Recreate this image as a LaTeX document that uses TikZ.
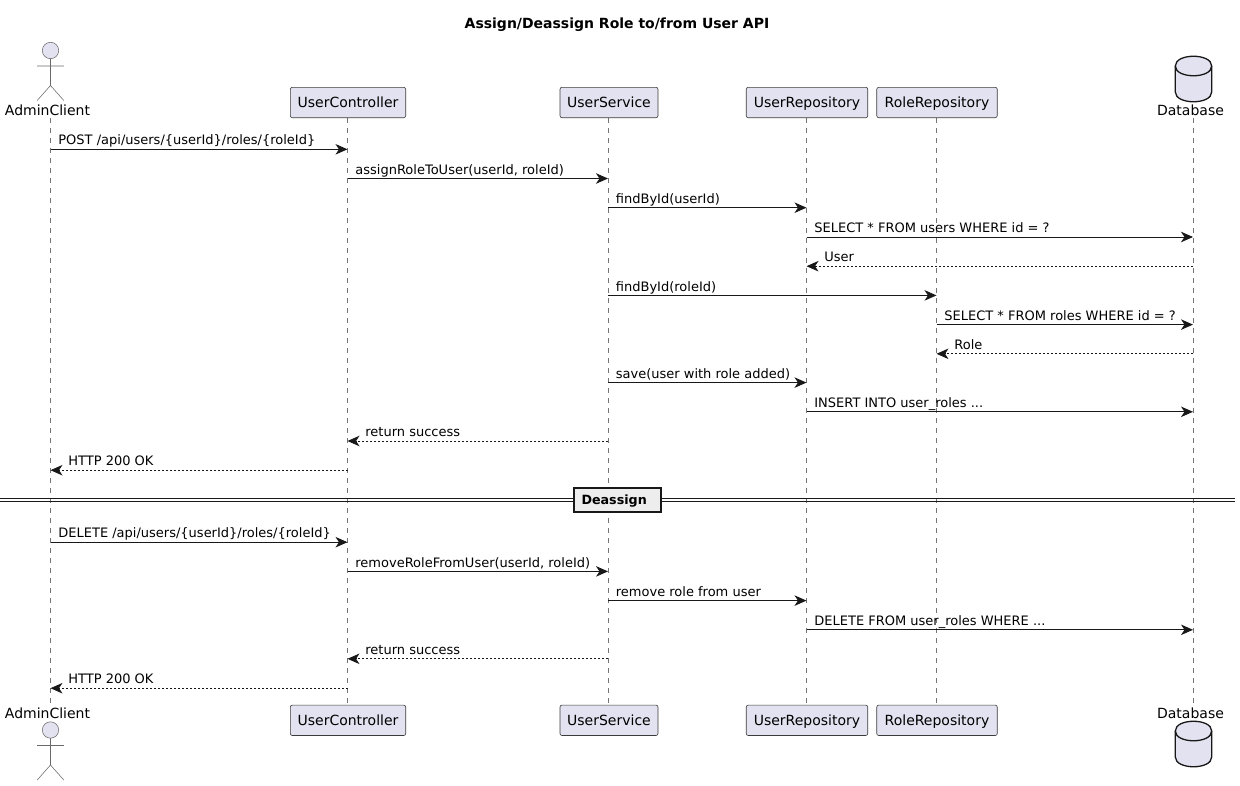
\documentclass[tikz,border=0pt]{standalone}
\usepackage{fontspec}
\setmainfont{DejaVu Sans}
\usetikzlibrary{arrows.meta}
\definecolor{pfill}{HTML}{E2E2F0}
\definecolor{pline}{HTML}{181818}
\tikzset{
  x=1pt,y=-1pt,
  part/.style={draw=pline!85,line width=0.6pt,fill=pfill,rounded corners=2pt,minimum height=30.4pt,inner sep=0pt,text height=11.5pt,text depth=2pt,font=\fontsize{14}{16}\selectfont,text=black},
  actorname/.style={inner sep=0pt,text height=10.5pt,text depth=3pt,font=\fontsize{14}{16}\selectfont,text=black},
  lifeline/.style={draw=pline!60,line width=0.55pt,dash pattern=on 5pt off 5pt},
  stick/.style={draw=pline!65,line width=0.55pt,fill=pfill},
  dbshape/.style={draw=pline,line width=1.3pt,fill=pfill},
  msgtext/.style={inner sep=0pt,anchor=base west,font=\fontsize{13}{15}\selectfont,text=black},
  solidmsg/.style={draw=pline,line width=0.9pt,-{Stealth[length=12pt,width=10.5pt,inset=3.5pt]}},
  dashmsg/.style={solidmsg,line width=0.8pt,dash pattern=on 2pt off 2pt},
  divline/.style={draw=pline,line width=1.1pt},
  divbox/.style={draw=pline,line width=2pt,fill=black!7,inner sep=0pt,minimum width=87pt,minimum height=24pt,text=black},
}
% \msgr{id}{from}{to}{y}{text}: left to right ; \msgl: right to left (reply)
\newcommand{\msgr}[5]{%
  \coordinate (#1s) at (#2 |- 0,#4);
  \coordinate (#1e) at (#3 |- 0,#4);
  \draw[solidmsg] (#1s) -- (#1e);
  \node[msgtext] (#1t) at ([xshift=7.7pt,yshift=4.4pt]#1s) {#5};}
\newcommand{\msgl}[5]{%
  \coordinate (#1s) at (#2 |- 0,#4);
  \coordinate (#1e) at (#3 |- 0,#4);
  \draw[dashmsg] (#1s) -- (#1e);
  \node[msgtext] (#1t) at ([xshift=17.7pt,yshift=4.4pt]#1e) {#5};}
% \actorfig{x}{head-y}
\newcommand{\actorfig}[2]{%
  \draw[stick] (#1,#2) circle[radius=8.2];
  \draw[stick,fill=none] (#1,#2+8.2) -- (#1,#2+35) (#1-13.3,#2+15.5) -- (#1+13.3,#2+15.5)
    (#1-13.3,#2+50) -- (#1,#2+35) -- (#1+13.3,#2+50);}
% \dbfig{x}{top-y}
\newcommand{\dbfig}[2]{%
  \draw[dbshape] (#1-18.2,#2+10) .. controls (#1-18.2,#2-3) and (#1+18.2,#2-3) .. (#1+18.2,#2+10)
    -- (#1+18.2,#2+36) .. controls (#1+18.2,#2+49) and (#1-18.2,#2+49) .. (#1-18.2,#2+36) -- cycle;
  \draw[dbshape,fill=none] (#1-18.2,#2+10) .. controls (#1-18.2,#2+23) and (#1+18.2,#2+23) .. (#1+18.2,#2+10);}
\begin{document}
\begin{tikzpicture}
\useasboundingbox (0,0) rectangle (1240,785);
\node[inner sep=0pt,text height=10.5pt,text depth=3pt,font=\bfseries\fontsize{14}{16}\selectfont] (title) at (617,25) {Assign/Deassign Role to/from User API};

% lifelines' anchors
\coordinate (A) at (50.5,118);    \coordinate (Ab) at (50.5,704);
\coordinate (C) at (347.5,118);   \coordinate (Cb) at (347.5,704);
\coordinate (S) at (608,118);     \coordinate (Sb) at (608,704);
\coordinate (U) at (806.5,118);   \coordinate (Ub) at (806.5,704);
\coordinate (R) at (936.5,118);   \coordinate (Rb) at (936.5,704);
\coordinate (D) at (1193,118);    \coordinate (Db) at (1193,704);
\foreach \p in {A,C,S,U,R,D} {\draw[lifeline] (\p) -- (\p b);}

% top participants
\actorfig{50.5}{50.5}
\node[actorname] (atop) at (47.5,112) {AdminClient};
\node[part,minimum width=115.4pt] (ctop) at (348,102.5) {UserController};
\node[part,minimum width=98pt] (stop) at (609,102.5) {UserService};
\node[part,minimum width=121.5pt] (utop) at (807,102.5) {UserRepository};
\node[part,minimum width=120.5pt] (rtop) at (937,102.5) {RoleRepository};
\dbfig{1193.5}{56}
\node[actorname] (dtop) at (1190.5,112) {Database};

% bottom participants
\actorfig{50.5}{730}
\node[actorname] (abot) at (47.5,715) {AdminClient};
\node[part,minimum width=115.4pt] (cbot) at (348,720.3) {UserController};
\node[part,minimum width=98pt] (sbot) at (609,720.3) {UserService};
\node[part,minimum width=121.5pt] (ubot) at (807,720.3) {UserRepository};
\node[part,minimum width=120.5pt] (rbot) at (937,720.3) {RoleRepository};
\dbfig{1193.5}{721}
\node[actorname] (dbot) at (1190.5,715) {Database};

% messages: assign
\msgr{a}{A}{C}{149.3}{POST /api/users/\{userId\}/roles/\{roleId\}}
\msgr{b}{C}{S}{178.5}{assignRoleToUser(userId, roleId)}
\msgr{c}{S}{U}{207.7}{findById(userId)}
\msgr{d}{U}{D}{237}{SELECT * FROM users WHERE id = ?}
\msgl{e}{D}{U}{266.2}{User}
\msgr{f}{S}{R}{295.4}{findById(roleId)}
\msgr{g}{R}{D}{324.6}{SELECT * FROM roles WHERE id = ?}
\msgl{h}{D}{R}{353.8}{Role}
\msgr{i}{S}{U}{382.6}{save(user with role added)}
\msgr{j}{U}{D}{411.8}{INSERT INTO user\_roles ...}
\msgl{k}{S}{C}{441}{return success}
\msgl{l}{C}{A}{470.2}{HTTP 200 OK}

% divider
\coordinate (dl1) at (0,498.4);  \coordinate (dr1) at (1235,498.4);
\coordinate (dl2) at (0,501.6);  \coordinate (dr2) at (1235,501.6);
\draw[divline] (dl1) -- (dr1);
\draw[divline] (dl2) -- (dr2);
\node[divbox] (div) at (617.5,500) {};
\node[inner sep=0pt,anchor=base west,font=\bfseries\fontsize{12.7}{15}\selectfont] (divt) at (581.3,504.5) {Deassign};

% messages: deassign
\msgr{m}{A}{C}{542.2}{DELETE /api/users/\{userId\}/roles/\{roleId\}}
\msgr{n}{C}{S}{571.4}{removeRoleFromUser(userId, roleId)}
\msgr{o}{S}{U}{600.6}{remove role from user}
\msgr{p}{U}{D}{629.8}{DELETE FROM user\_roles WHERE ...}
\msgl{q}{S}{C}{658.8}{return success}
\msgl{r}{C}{A}{688.2}{HTTP 200 OK}
\end{tikzpicture}
\end{document}
